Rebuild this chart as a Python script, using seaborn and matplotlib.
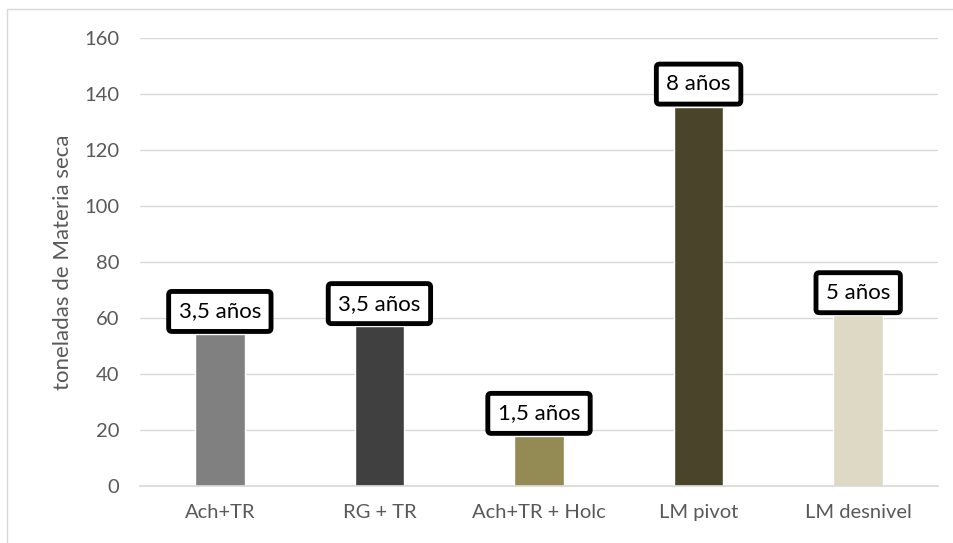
import matplotlib
matplotlib.use("Agg")
import matplotlib.pyplot as plt
import seaborn as sns
from matplotlib.patches import Rectangle

# data
categories = ["Ach+TR", "RG + TR", "Ach+TR + Holc", "LM pivot", "LM desnivel"]
toneladas = [54.3, 57.1, 17.9, 135.5, 61.0]
etiquetas = ["3,5 años", "3,5 años", "1,5 años", "8 años", "5 años"]
colores = ["#808080", "#404040", "#948A54", "#4A452A", "#DDD9C4"]

sns.set_theme(style="white")
plt.rcParams['font.family'] = ['Lato', 'DejaVu Sans']

fig = plt.figure(figsize=(9.54, 5.43), dpi=100)
ax = fig.add_axes([0.1468, 0.105, 0.8364, 0.825])

# outer chart border
fig.patches.append(Rectangle((7 / 954, -0.1), 1.1, 1 - 9 / 543 + 0.1,
                             transform=fig.transFigure, fill=False,
                             edgecolor="#d9d9d9", linewidth=1))

sns.barplot(x=categories, y=toneladas, hue=categories, palette=colores,
            width=0.31, legend=False, ax=ax, saturation=1)

ax.set_ylim(0, 160)
ax.set_yticks(range(0, 161, 20))
ax.set_xlim(-0.5, len(categories) - 0.5)
ax.yaxis.grid(True, color="#d9d9d9", linewidth=1)
ax.set_axisbelow(True)
for s in ["left", "right", "top"]:
    ax.spines[s].set_visible(False)
ax.spines["bottom"].set_color("#d9d9d9")
ax.tick_params(axis="both", length=0, labelsize=14.5, colors="#595959")
ax.tick_params(axis="y", pad=15)
ax.tick_params(axis="x", pad=13)
ax.set_ylabel("toneladas de Materia seca", fontsize=16, color="#595959", labelpad=8)

# boxed labels above bars
for i, (v, txt) in enumerate(zip(toneladas, etiquetas)):
    ax.annotate(txt, xy=(i, v), xytext=(0, 9), textcoords="offset points",
                ha="center", va="bottom", fontsize=16, color="black",
                bbox=dict(boxstyle="round,pad=0.45,rounding_size=0.15",
                          fc="white", ec="black", lw=3.5))

fig.savefig("out.png", dpi=100)
